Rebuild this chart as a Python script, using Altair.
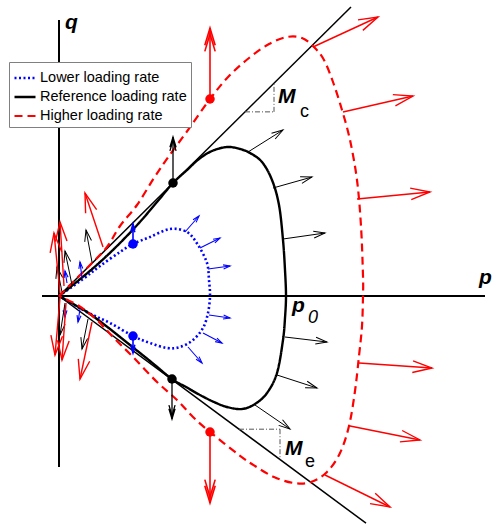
import altair as alt
import numpy as np
import pandas as pd

LOWER, REF, HIGH = "Lower loading rate", "Reference loading rate", "Higher loading rate"
SERIES = [LOWER, REF, HIGH]
COLORS = ["#0000ff", "#000000", "#ff0000"]
DASHES = [[2, 2.5], [1, 0], [8, 5]]
WIDTHS = [2.6, 2.2, 2.6]

# Yield surfaces (p, q): from the origin over the compression side to the
# p axis, then back to the origin along the extension side.
lower_surface = [(0, 0), (24, 17), (41, 30), (61, 44), (74, 52), (91, 59), (111, 67),
                 (128, 64), (139, 51), (148, 33), (150, 16), (151, 0), (149, -17),
                 (144, -32), (134, -44), (121, -51), (108, -52), (91, -47), (74, -40),
                 (51, -27), (28, -16), (0, 0)]
ref_surface = [(0, 0), (20, 16), (40, 33), (60, 52), (80, 73), (98, 94), (114, 113),
               (128, 126), (140, 137), (153, 145), (168, 149), (181, 147), (191, 143),
               (203, 134), (213, 116), (220, 91), (224, 56), (226, 26), (227, 0),
               (226, -22), (224, -44), (218, -77), (208, -97), (196, -108), (183, -113),
               (168, -111), (155, -106), (141, -99), (127, -91), (113, -83), (91, -65),
               (71, -49), (51, -33), (31, -18), (16, -9), (0, 0)]
high_surface = [(0, 0), (31, 31), (48, 49), (61, 70), (78, 91), (95, 118), (110, 140),
                (129, 166), (151, 197), (170, 220), (190, 238), (210, 252), (228, 259),
                (243, 258), (255, 249), (265, 236), (274, 214), (283, 186), (291, 156),
                (298, 116), (302, 70), (304, 20), (304, 0), (303, -30), (300, -60),
                (296, -95), (290, -130), (281, -157), (268, -176), (252, -186), (235, -187),
                (215, -181), (196, -170), (180, -159), (151, -136), (134, -121), (118, -104),
                (98, -86), (74, -61), (54, -41), (38, -24), (20, -10), (0, 0)]

# Peak points of each surface (where the flow is purely deviatoric)
lower_peaks = [(74, 52), (74, -40)]
ref_peaks = [(114, 113), (113, -83)]
high_peaks = [(151, 197), (151, -136)]

# Plastic flow vectors: (p, q) on the surface -> (p, q) of the tip
lower_flow = [(126, 64, 140, 80), (141, 48, 161, 58), (149, 27, 171, 30), (150, -19, 171, -22),
              (144, -37, 163, -47), (129, -51, 143, -67), (23, 18, 21, 34), (8, 13, 6, 25),
              (6, -9, 6, -21), (21, -13, 19, -26)]
lower_peak_flow = [(74, 52, 74, 72), (74, -40, 74, -57)]
ref_flow = [(189, 144, 224, 166), (214, 108, 253, 119), (224, 57, 266, 63), (226, -41, 268, -46),
            (218, -79, 258, -92), (196, -109, 231, -133), (33, 34, 27, 66), (13, 11, 6, 45),
            (3, 4, -2, 29), (29, -23, 23, -53), (6, -7, 1, -39)]
ref_peak_flow = [(114, 113, 114, 159), (113, -83, 113, -123)]
high_flow = [(254, 249, 319, 279), (284, 184, 354, 200), (298, 97, 371, 104), (300, -67, 373, -72),
             (291, -130, 361, -144), (266, -179, 331, -211), (44, 49, 26, 103), (5, 10, 1, 74),
             (1, 3, -5, 63), (33, -26, 21, -83), (7, -7, 3, -64), (1, -2, -4, -59)]
high_peak_flow = [(151, 197, 151, 268), (151, -136, 151, -207)]

# Critical state lines and axes
M_C, M_E = 0.99, 0.74
CSL_C_END, CSL_E_END = 292, 307
P_AXIS = (-17, 426)
Q_AXIS = (-171, 276)
SLOPE_C = (186, 215)
SLOPE_E = (180, 221)

xs = alt.Scale(domain=[-59, 435], nice=False, zero=False)
ys = alt.Scale(domain=[-229, 296], nice=False, zero=False)
X = lambda f: alt.X(f, type="quantitative", scale=xs, axis=None)
Y = lambda f: alt.Y(f, type="quantitative", scale=ys, axis=None)

FONT = "Liberation Sans"

layers = []

# axes
axes_df = pd.DataFrame([
    dict(p=P_AXIS[0], q=0, p2=P_AXIS[1], q2=0),
    dict(p=0, q=Q_AXIS[0], p2=0, q2=Q_AXIS[1]),
])
layers.append(alt.Chart(axes_df).mark_rule(color="black", strokeWidth=2).encode(
    x=X("p"), y=Y("q"), x2="p2", y2="q2"))

# critical state lines
csl_df = pd.DataFrame([
    dict(p=0, q=0, p2=CSL_C_END, q2=M_C * CSL_C_END),
    dict(p=0, q=0, p2=CSL_E_END, q2=-M_E * CSL_E_END),
])
layers.append(alt.Chart(csl_df).mark_rule(color="black", strokeWidth=1.5).encode(
    x=X("p"), y=Y("q"), x2="p2", y2="q2"))

# slope triangles
tri = []
a, b = SLOPE_C
tri += [dict(p=a, q=M_C * a, p2=b, q2=M_C * a), dict(p=b, q=M_C * a, p2=b, q2=M_C * b)]
a, b = SLOPE_E
tri += [dict(p=a, q=-M_E * a, p2=b, q2=-M_E * a), dict(p=b, q=-M_E * a, p2=b, q2=-M_E * b)]
layers.append(alt.Chart(pd.DataFrame(tri)).mark_rule(
    color="#555555", strokeWidth=1, strokeDash=[5, 2, 1, 2]).encode(
    x=X("p"), y=Y("q"), x2="p2", y2="q2"))

# yield surfaces
rows = []
for name, pts in zip(SERIES, [lower_surface, ref_surface, high_surface]):
    for i, (p, q) in enumerate(pts):
        rows.append(dict(series=name, i=i, p=p, q=q))
surf_df = pd.DataFrame(rows)
legend = alt.Legend(title=None, orient="none", legendX=9, legendY=62,
                    strokeColor="#808080", fillColor="white", padding=4,
                    symbolType="stroke", symbolSize=441, symbolStrokeWidth=2.2,
                    labelFontSize=14.5, labelFont=FONT, labelColor="black",
                    labelOffset=3, rowPadding=-2, labelLimit=300)
layers.append(alt.Chart(surf_df).mark_line(interpolate="cardinal").encode(
    x=X("p"), y=Y("q"), order="i:Q",
    color=alt.Color("series:N", scale=alt.Scale(domain=SERIES, range=COLORS), legend=legend),
    strokeDash=alt.StrokeDash("series:N", scale=alt.Scale(domain=SERIES, range=DASHES), legend=legend),
    strokeWidth=alt.StrokeWidth("series:N", scale=alt.Scale(domain=SERIES, range=WIDTHS), legend=None),
))

# flow vectors
SINGLE = "M-0.3,1 L0,0 L0.3,1"
DOUBLE = "M-0.3,1 L0,0 L0.3,1 M-0.3,1.35 L0,0.35 L0.3,1.35"


def flow(rows, color, width, head, shape):
    df = pd.DataFrame(rows, columns=["p", "q", "p2", "q2"])
    df["angle"] = np.degrees(np.arctan2(df.p2 - df.p, df.q2 - df.q)) % 360
    base = alt.Chart(df)
    shaft = base.mark_rule(color=color, strokeWidth=width).encode(
        x=X("p"), y=Y("q"), x2="p2", y2="q2")
    tip = base.mark_point(shape=shape, filled=False, color=color, strokeWidth=width,
                          size=head, opacity=1).encode(
        x=X("p2"), y=Y("q2"), angle=alt.Angle("angle:Q", scale=None))
    return [shaft, tip]


layers += flow(lower_flow, COLORS[0], 1.1, 180, SINGLE)
layers += flow(lower_peak_flow, COLORS[0], 1.6, 150, DOUBLE)
layers += flow(ref_flow, COLORS[1], 1.0, 520, SINGLE)
layers += flow(ref_peak_flow, COLORS[1], 1.3, 420, DOUBLE)
layers += flow(high_flow, COLORS[2], 1.4, 1500, SINGLE)
layers += flow(high_peak_flow, COLORS[2], 1.6, 1200, DOUBLE)

# peak points
dots = []
for name, pts in zip(SERIES, [lower_peaks, ref_peaks, high_peaks]):
    for p, q in pts:
        dots.append(dict(series=name, p=p, q=q))
layers.append(alt.Chart(pd.DataFrame(dots)).mark_circle(opacity=1, size=90).encode(
    x=X("p"), y=Y("q"),
    color=alt.Color("series:N", scale=alt.Scale(domain=SERIES, range=COLORS), legend=None)))

# labels
main_labels = pd.DataFrame([
    dict(t="q", p=6, q=267), dict(t="p", p=420, q=12), dict(t="p", p=233, q=-16),
    dict(t="M", p=219, q=193), dict(t="M", p=226, q=-159),
])
layers.append(alt.Chart(main_labels).mark_text(
    font=FONT, fontSize=21, fontStyle="italic", fontWeight="bold", align="left",
    baseline="alphabetic", color="black").encode(x=X("p"), y=Y("q"), text="t:N"))
sub_labels = pd.DataFrame([
    dict(t="c", p=241, q=179), dict(t="e", p=246, q=-171),
])
layers.append(alt.Chart(sub_labels).mark_text(
    font=FONT, fontSize=18, align="left", baseline="alphabetic", color="black").encode(
    x=X("p"), y=Y("q"), text="t:N"))
layers.append(alt.Chart(pd.DataFrame([dict(t="0", p=249, q=-27)])).mark_text(
    font=FONT, fontSize=18, fontStyle="italic", align="left", baseline="alphabetic",
    color="black").encode(x=X("p"), y=Y("q"), text="t:N"))

chart = alt.layer(*layers).properties(
    width=494, height=525, autosize="none", padding=0, background="white"
).configure_view(stroke=None)

chart.save("out.html", embed_options={"renderer": "svg", "actions": False})
